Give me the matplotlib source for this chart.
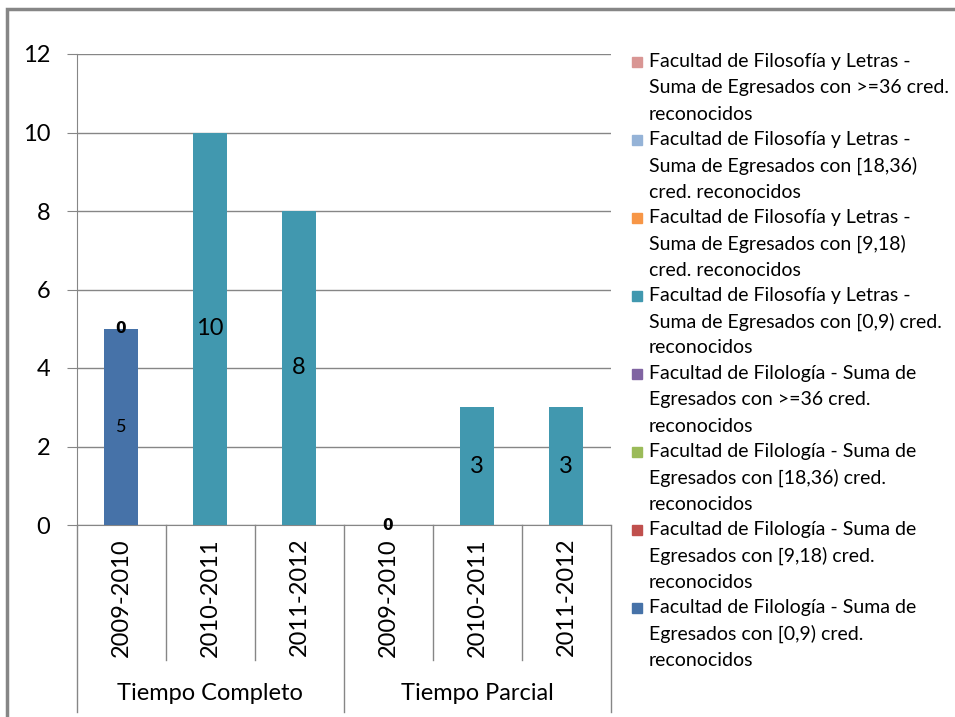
import matplotlib
matplotlib.use("Agg")
import matplotlib.pyplot as plt
from matplotlib.patches import Rectangle
import numpy as np

plt.rcParams['font.family'] = ['Lato', 'DejaVu Sans']

years = ["2009-2010", "2010-2011", "2011-2012", "2009-2010", "2010-2011", "2011-2012"]
groups = ["Tiempo Completo", "Tiempo Parcial"]
group_sizes = [3, 3]

# series in stacking order (bottom -> top)
legend_texts = [
    "Facultad de Filología - Suma de\nEgresados con [0,9) cred.\nreconocidos",
    "Facultad de Filología - Suma de\nEgresados con [9,18) cred.\nreconocidos",
    "Facultad de Filología - Suma de\nEgresados con [18,36) cred.\nreconocidos",
    "Facultad de Filología - Suma de\nEgresados con >=36 cred.\nreconocidos",
    "Facultad de Filosofía y Letras -\nSuma de Egresados con [0,9) cred.\nreconocidos",
    "Facultad de Filosofía y Letras -\nSuma de Egresados con [9,18)\ncred. reconocidos",
    "Facultad de Filosofía y Letras -\nSuma de Egresados con [18,36)\ncred. reconocidos",
    "Facultad de Filosofía y Letras -\nSuma de Egresados con >=36 cred.\nreconocidos",
]
series_colors = ["#4672A8", "#C0504D", "#9BBB59", "#8064A2",
                 "#4198AF", "#F79646", "#95B3D7", "#D99694"]

filologia_0_9 = [5, 0, 0, 0, 0, 0]
filologia_9_18 = [0, 0, 0, 0, 0, 0]
filologia_18_36 = [0, 0, 0, 0, 0, 0]
filologia_36 = [0, 0, 0, 0, 0, 0]
filosofia_0_9 = [0, 10, 8, 0, 3, 3]
filosofia_9_18 = [0, 0, 0, 0, 0, 0]
filosofia_18_36 = [0, 0, 0, 0, 0, 0]
filosofia_36 = [0, 0, 0, 0, 0, 0]

values = [filologia_0_9, filologia_9_18, filologia_18_36, filologia_36,
          filosofia_0_9, filosofia_9_18, filosofia_18_36, filosofia_36]

# data labels: (series index, category index, fontsize, bold)
labels = [(0, 0, 13, False), (4, 0, 11, True), (4, 1, 17, False), (4, 2, 17, False),
          (4, 3, 11, True), (4, 4, 17, False), (4, 5, 17, False)]

W, H = 955, 717
fig = plt.figure(figsize=(W / 100, H / 100), dpi=100)
ax = fig.add_axes([76.5 / W, 1 - 525 / H, (610.5 - 76.5) / W, (525 - 54) / H])

x = np.arange(len(years))
width = 0.39
bottom = np.zeros(len(years))
bars = []
for vals, col in zip(values, series_colors):
    ax.bar(x, vals, width, bottom=bottom, color=col, zorder=3)
    bars.append((np.array(vals, dtype=float), bottom.copy()))
    bottom += np.array(vals, dtype=float)

for si, ci, fs, bold in labels:
    v, b = bars[si]
    yv = b[ci] + v[ci] / 2
    fam = ['DejaVu Sans'] if bold else ['Lato', 'DejaVu Sans']
    ax.text(x[ci], yv, f"{int(v[ci])}", ha='center', va='center', fontsize=fs,
            fontweight='bold' if bold else 'normal', family=fam,
            color='black', zorder=5)

ax.set_xlim(-0.5, len(years) - 0.5)
ax.set_ylim(0, 12)
ax.set_yticks(range(0, 13, 2))
ax.tick_params(axis='y', length=7, color='#868686', labelsize=17, pad=12)
ax.grid(axis='y', color='#868686', linewidth=1, zorder=0)
ax.set_xticks([])
for s in ['top', 'right']:
    ax.spines[s].set_visible(False)
ax.spines['left'].set_color('#868686')
ax.spines['bottom'].set_color('#868686')

# multi-level category axis
trans = ax.get_xaxis_transform()
px = 1 / (525 - 54)  # axes fraction per pixel vertically
for i in range(len(years) + 1):
    xb = i - 0.5
    is_group = i in (0, 3, 6)
    ybot = -(712 - 525) * px if is_group else -(660 - 525) * px
    ax.plot([xb, xb], [0, ybot], transform=trans, color='#868686', lw=1, clip_on=False)
for i, y in enumerate(years):
    ax.text(x[i], -(538 - 525) * px, y, rotation=90, ha='center', va='top',
            fontsize=17, transform=trans)
start = 0
for g, n in zip(groups, group_sizes):
    ax.text(start + (n - 1) / 2, -(693 - 525) * px, g, ha='center', va='center',
            fontsize=17, transform=trans)
    start += n

# legend drawn manually (top series first)
order = list(range(len(series_colors)))[::-1]
line_h = 26
for k, si in enumerate(order):
    y0 = 62 + 78 * k
    fig.patches.append(Rectangle((632 / W, 1 - (y0 + 5) / H), 10 / W, 10 / H,
                                 transform=fig.transFigure, color=series_colors[si]))
    for j, line in enumerate(legend_texts[si].split("\n")):
        fig.text(649 / W, 1 - (y0 + line_h * j) / H, line, ha='left', va='center',
                 fontsize=14)

# outer frame (partially visible)
fig.patches.append(Rectangle((7 / W, -0.1), 1.2, 1 - 9 / H + 0.1, transform=fig.transFigure,
                             fill=False, edgecolor='#868686', lw=2.5))

fig.savefig("out.png", dpi=100)
